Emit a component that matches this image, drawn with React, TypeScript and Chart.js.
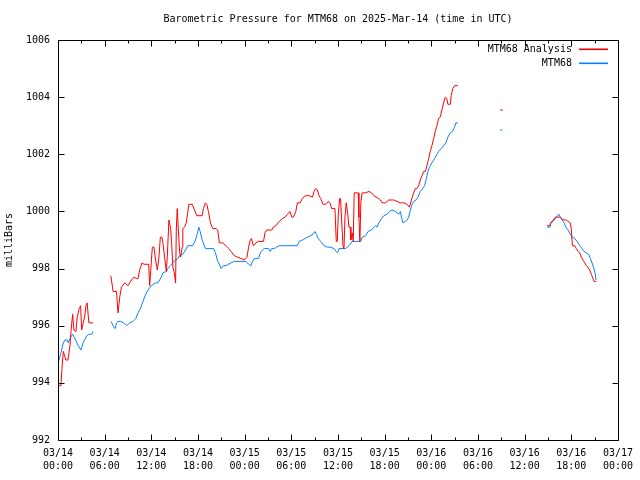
import React, { useEffect, useRef } from "react";
import { Chart, registerables } from "chart.js";

Chart.register(...registerables);

const TITLE = "Barometric Pressure for MTM68 on 2025-Mar-14 (time in UTC)";
const Y_LABEL = "milliBars";
const SERIES_NAMES = ["MTM68 Analysis", "MTM68"];
const SERIES_COLORS = ["#ff0000", "#0a80ff"];
const DAY_LABELS = ["03/14", "03/15", "03/16", "03/17"];
const X_MIN = 0;
const X_MAX = 72;
const Y_MIN = 992;
const Y_MAX = 1006;

// [hours since 03/14 00:00 UTC, millibars]
const analysisSeg1: [number, number][] = [
  [0, 993.9], [0.38, 993.9], [0.51, 994.5], [0.68, 995.1], [1.02, 994.8], [1.28, 994.8],
  [1.54, 995.3], [1.67, 995.8], [1.88, 996.4], [2.05, 995.85], [2.31, 995.8], [2.47, 996.3],
  [2.73, 996.6], [2.91, 996.7], [3.04, 995.85], [3.24, 996.1], [3.42, 996.3], [3.59, 996.7],
  [3.75, 996.8], [3.97, 996.1], [4.52, 996.1],
];
const analysisSeg2: [number, number][] = [
  [6.79, 997.75], [7.01, 997.35], [7.08, 997.2], [7.52, 997.2], [7.72, 996.45], [7.94, 997.0],
  [8.16, 997.35], [8.58, 997.5], [9.01, 997.4], [9.44, 997.6], [9.77, 997.7], [10.08, 997.65],
  [10.29, 997.65], [10.5, 997.95], [10.8, 998.2], [11.06, 998.15], [11.66, 998.15], [11.79, 997.4],
  [12.13, 998.75], [12.34, 998.75], [12.55, 998.3], [12.77, 997.95], [12.98, 998.4], [13.16, 999.1],
  [13.36, 999.1], [13.49, 998.9], [13.71, 998.4], [13.93, 997.9], [14.05, 998.4], [14.26, 999.7],
  [14.48, 999.4], [14.6, 998.95], [14.77, 998.05], [14.95, 997.85], [15.12, 997.5], [15.21, 999.35],
  [15.33, 1000.1], [15.46, 999.45], [15.63, 998.6], [15.76, 998.4], [15.97, 998.75], [16.05, 999.4],
  [16.27, 999.45], [16.49, 999.6], [16.65, 999.9], [16.82, 1000.25], [17.26, 1000.25], [17.55, 1000.05],
  [17.85, 999.85], [18.54, 999.85], [18.7, 1000.1], [18.96, 1000.3], [19.13, 1000.25], [19.34, 1000.0],
  [19.6, 999.6], [19.9, 999.4], [20.33, 999.4], [20.54, 999.35], [20.75, 998.9], [21.18, 998.9],
  [21.61, 998.8], [21.94, 998.7], [22.25, 998.6], [22.68, 998.45], [23.1, 998.4], [23.53, 998.35],
  [23.96, 998.3], [24.3, 998.4], [24.51, 998.75], [24.72, 999.0], [24.89, 999.05], [25.11, 998.8],
  [25.45, 998.9], [25.75, 998.95], [26.43, 998.95], [26.61, 999.25], [26.81, 999.35], [27.5, 999.35],
  [27.67, 999.45], [28.02, 999.5], [28.44, 999.65], [28.86, 999.75], [29.21, 999.8], [29.5, 999.9],
  [29.81, 1000.0], [30.07, 999.8], [30.27, 999.8], [30.58, 1000.0], [30.78, 1000.3], [31.13, 1000.3],
  [31.42, 1000.45], [31.77, 1000.55], [32.28, 1000.55], [32.71, 1000.5], [32.92, 1000.7], [33.14, 1000.8],
  [33.35, 1000.75], [33.56, 1000.55], [33.78, 1000.45], [34.08, 1000.25], [34.42, 1000.25], [34.76, 1000.35],
  [34.97, 1000.3], [35.19, 1000.1], [35.61, 1000.1], [35.78, 998.95], [35.91, 998.95], [36.04, 999.9],
  [36.22, 1000.45], [36.34, 1000.45], [36.47, 999.7], [36.64, 998.8], [36.77, 998.7], [36.9, 999.8],
  [37.06, 1000.3], [37.24, 999.95], [37.41, 999.45], [37.57, 999.45], [37.66, 999.0], [37.83, 999.25],
  [37.96, 998.95], [38.09, 1000.65], [38.6, 1000.65], [38.69, 999.8], [38.82, 998.95], [38.94, 1000.3],
  [39.11, 1000.65], [39.55, 1000.65], [39.97, 1000.7], [40.32, 1000.65], [40.61, 1000.55], [40.9, 1000.5],
  [41.25, 1000.45], [41.47, 1000.4], [41.67, 1000.3], [42.11, 1000.3], [42.53, 1000.4], [43.17, 1000.4],
  [43.6, 1000.35], [44.03, 1000.3], [44.45, 1000.3], [44.88, 1000.25], [45.18, 1000.15], [45.44, 1000.4],
  [45.73, 1000.65], [45.95, 1000.8], [46.16, 1000.8], [46.37, 1000.9], [46.59, 1001.1], [46.8, 1001.25],
  [47.02, 1001.4], [47.23, 1001.4], [47.44, 1001.6], [47.66, 1001.85], [47.87, 1002.1], [48.08, 1002.3],
  [48.3, 1002.55], [48.51, 1002.8], [48.72, 1003.0], [48.94, 1003.25], [49.15, 1003.3], [49.36, 1003.55],
  [49.58, 1003.8], [49.8, 1004.0], [50.0, 1003.95], [50.13, 1003.75], [50.44, 1003.75], [50.56, 1004.05],
  [50.77, 1004.3], [50.99, 1004.4], [51.41, 1004.4],
];
const analysisSeg3: [number, number][] = [[56.85, 1003.55], [57.2, 1003.55]];
const analysisSeg4: [number, number][] = [
  [62.9, 999.5], [63.25, 999.5], [63.37, 999.6], [63.67, 999.7], [63.96, 999.8], [64.53, 999.8],
  [64.73, 999.75], [65.08, 999.7], [65.37, 999.7], [65.59, 999.65], [65.88, 999.6], [66.01, 999.35],
  [66.14, 998.8], [66.45, 998.8], [66.65, 998.7], [66.87, 998.6], [67.09, 998.55], [67.29, 998.4],
  [67.51, 998.3], [67.73, 998.2], [67.93, 998.1], [68.15, 998.05], [68.37, 997.95], [68.58, 997.8],
  [68.79, 997.65], [68.92, 997.55], [69.22, 997.55],
];

const modelSeg1: [number, number][] = [
  [0, 994.7], [0.13, 994.8], [0.38, 995.05], [0.68, 995.4], [0.9, 995.5], [1.19, 995.5], [1.32, 995.4],
  [1.63, 995.6], [1.88, 995.7], [2.18, 995.55], [2.6, 995.3], [2.95, 995.15], [3.24, 995.4],
  [3.59, 995.6], [3.88, 995.7], [4.32, 995.7], [4.52, 995.8],
];
const modelSeg2: [number, number][] = [
  [6.83, 996.15], [7.08, 996.0], [7.34, 995.9], [7.52, 996.1], [7.72, 996.15], [8.07, 996.15],
  [8.46, 996.1], [8.8, 996.0], [9.22, 996.1], [9.65, 996.15], [9.99, 996.25], [10.29, 996.45],
  [10.59, 996.6], [10.93, 996.85], [11.27, 997.1], [11.57, 997.25], [12.0, 997.4], [12.55, 997.5],
  [12.85, 997.5], [13.07, 997.6], [13.28, 997.7], [13.49, 997.85], [13.93, 997.9], [14.13, 998.0],
  [14.44, 998.1], [14.77, 998.2], [15.12, 998.3], [15.41, 998.35], [15.63, 998.45], [16.05, 998.5],
  [16.4, 998.65], [16.69, 998.8], [17.33, 998.8], [17.68, 999.0], [17.9, 999.2], [18.1, 999.45],
  [18.28, 999.3], [18.54, 999.0], [18.96, 998.7], [20.02, 998.7], [20.24, 998.55], [20.54, 998.25],
  [20.75, 998.15], [20.97, 998.0], [21.27, 998.1], [21.61, 998.1], [22.25, 998.2], [22.68, 998.25],
  [24.17, 998.25], [24.51, 998.15], [24.81, 998.1], [25.02, 998.25], [25.24, 998.35], [25.79, 998.35],
  [26.01, 998.55], [26.3, 998.65], [26.52, 998.7], [27.07, 998.7], [27.29, 998.6], [27.45, 998.7],
  [27.8, 998.7], [28.09, 998.75], [28.44, 998.8], [28.79, 998.8], [30.78, 998.8], [31.0, 998.95],
  [31.42, 999.0], [32.07, 999.1], [32.5, 999.15], [32.8, 999.2], [33.05, 999.3], [33.22, 999.2],
  [33.47, 999.05], [33.78, 998.95], [34.2, 998.8], [34.63, 998.75], [35.0, 998.75], [35.49, 998.7],
  [35.78, 998.6], [35.96, 998.55], [36.13, 998.7], [36.98, 998.7], [37.41, 998.8], [37.83, 998.95],
  [38.91, 998.95], [39.11, 999.1], [39.55, 999.15], [39.88, 999.3], [40.32, 999.35], [40.61, 999.45],
  [40.83, 999.5], [41.03, 999.45], [41.25, 999.6], [41.6, 999.75], [41.89, 999.85], [42.31, 999.9],
  [42.62, 1000.0], [42.95, 1000.05], [43.39, 1000.0], [43.81, 999.9], [44.03, 1000.0], [44.16, 999.8],
  [44.36, 999.6], [44.67, 999.65], [44.88, 999.7], [45.09, 999.8], [45.31, 1000.05], [45.52, 1000.25],
  [45.73, 1000.35], [46.03, 1000.4], [46.28, 1000.5], [46.59, 1000.7], [46.89, 1000.8], [47.14, 1000.9],
  [47.36, 1001.15], [47.57, 1001.4], [47.75, 1001.55], [48.08, 1001.7], [48.42, 1001.85], [48.72, 1002.0],
  [48.94, 1002.1], [49.28, 1002.2], [49.58, 1002.3], [49.87, 1002.4], [50.13, 1002.6], [50.44, 1002.75],
  [50.73, 1002.8], [50.99, 1002.95], [51.15, 1003.1], [51.41, 1003.1],
];
const modelSeg3: [number, number][] = [[56.85, 1002.85], [57.15, 1002.85]];
const modelSeg4: [number, number][] = [
  [62.9, 999.45], [63.25, 999.45], [63.37, 999.6], [63.67, 999.65], [63.96, 999.75], [64.18, 999.85],
  [64.4, 999.9], [64.6, 999.8], [64.82, 999.7], [65.08, 999.6], [65.3, 999.45], [65.59, 999.35],
  [65.88, 999.2], [66.14, 999.1], [66.45, 999.05], [66.74, 998.95], [67.09, 998.8], [67.38, 998.7],
  [67.64, 998.6], [67.93, 998.55], [68.24, 998.5], [68.45, 998.35], [68.67, 998.2], [68.92, 998.0],
  [69.09, 997.8], [69.18, 997.6],
];

const FONT = "'DejaVu Sans Mono', monospace";
const FONT_SIZE = 10;

function joinSegments(segs: [number, number][][]) {
  const out: { x: number; y: number | null }[] = [];
  segs.forEach((seg, i) => {
    if (i > 0) out.push({ x: (segs[i - 1][segs[i - 1].length - 1][0] + seg[0][0]) / 2, y: null });
    seg.forEach(([x, y]) => out.push({ x, y }));
  });
  return out;
}

const framePlugin = {
  id: "gnuplotFrame",
  afterDraw(chart: any) {
    const { ctx, chartArea, scales } = chart;
    const { left, right, top, bottom } = chartArea;
    ctx.save();
    ctx.strokeStyle = "#000";
    ctx.lineWidth = 1;
    ctx.beginPath();
    const L = Math.round(left) + 0.5, R = Math.round(right) + 0.5;
    const T = Math.round(top) + 0.5, B = Math.round(bottom) + 0.5;
    ctx.rect(L, T, R - L, B - T);
    for (let h = X_MIN; h <= X_MAX; h += 3) {
      const px = Math.round(scales.x.getPixelForValue(h)) + 0.5;
      const len = h % 6 === 0 ? 6 : 3;
      ctx.moveTo(px, B); ctx.lineTo(px, B - len);
      ctx.moveTo(px, T); ctx.lineTo(px, T + len);
    }
    for (let v = Y_MIN; v <= Y_MAX; v += 2) {
      const py = Math.round(scales.y.getPixelForValue(v)) + 0.5;
      ctx.moveTo(L, py); ctx.lineTo(L + 6, py);
      ctx.moveTo(R, py); ctx.lineTo(R - 6, py);
    }
    ctx.stroke();
    ctx.restore();

    ctx.save();
    ctx.font = `${FONT_SIZE}px ${FONT}`;
    ctx.textAlign = "right";
    ctx.textBaseline = "middle";
    for (let i = 0; i < SERIES_NAMES.length; i++) {
      const y = Math.round(top + 9 + i * 14);
      ctx.fillStyle = "#000000";
      ctx.fillText(SERIES_NAMES[i], right - 46, y + 0.5);
    }
    ctx.restore();

    for (let i = 0; i < SERIES_NAMES.length; i++) {
      const y = Math.round(top + 9 + i * 14);
      ctx.save();
      ctx.globalAlpha = 1;
      ctx.globalCompositeOperation = "source-over";
      ctx.fillStyle = SERIES_COLORS[i];
      ctx.fillRect(Math.round(right - 39), y - 0.5, 29, 1.6);
      ctx.restore();
    }
  },
};

export default function App() {
  const ref = useRef<HTMLCanvasElement>(null);
  useEffect(() => {
    if (!ref.current) return;
    const chart = new Chart(ref.current, {
      type: "line",
      data: {
        datasets: [
          {
            label: SERIES_NAMES[0],
            data: joinSegments([analysisSeg1, analysisSeg2, analysisSeg3, analysisSeg4]) as any,
            borderColor: SERIES_COLORS[0],
            borderWidth: 1,
            pointRadius: 0,
            tension: 0,
            spanGaps: false,
          },
          {
            label: SERIES_NAMES[1],
            data: joinSegments([modelSeg1, modelSeg2, modelSeg3, modelSeg4]) as any,
            borderColor: SERIES_COLORS[1],
            borderWidth: 1,
            pointRadius: 0,
            tension: 0,
            spanGaps: false,
          },
        ],
      },
      options: {
        animation: false,
        responsive: false,
        maintainAspectRatio: false,
        layout: { padding: { left: 0, right: 20, top: 0, bottom: 0 } },
        plugins: {
          legend: { display: false },
          tooltip: { enabled: false },
          title: {
            display: true,
            fullSize: false,
            text: TITLE,
            color: "#000",
            font: { family: FONT, size: FONT_SIZE, weight: "normal", lineHeight: 1.2 },
            padding: { top: 13, bottom: 15 },
          },
        },
        scales: {
          x: {
            type: "linear",
            min: X_MIN,
            max: X_MAX,
            grid: { display: false, drawTicks: false },
            border: { display: false },
            afterFit: (s: any) => { s.height = 40; },
            ticks: {
              stepSize: 6,
              autoSkip: false,
              maxRotation: 0,
              padding: 7,
              color: "#000",
              font: { family: FONT, size: FONT_SIZE, lineHeight: 1.3 },
              callback: (v: any) => {
                const h = Number(v);
                const day = DAY_LABELS[Math.floor(h / 24)];
                const hh = String(h % 24).padStart(2, "0");
                return [day, `${hh}:00`];
              },
            },
          },
          y: {
            min: Y_MIN,
            max: Y_MAX,
            grid: { display: false, drawTicks: false },
            border: { display: false },
            afterFit: (s: any) => { s.width = 58; },
            title: {
              display: true,
              text: Y_LABEL,
              color: "#000",
              font: { family: FONT, size: FONT_SIZE },
              padding: { top: 3, bottom: 0 },
            },
            ticks: {
              stepSize: 2,
              padding: 8,
              color: "#000",
              font: { family: FONT, size: FONT_SIZE },
              callback: (v: any) => String(v),
            },
          },
        },
      },
      plugins: [framePlugin],
    });
    return () => chart.destroy();
  }, []);
  return (
    <div style={{ position: "absolute", left: 0, top: 0, width: 640, height: 480, background: "#fff" }}>
      <canvas ref={ref} width={640} height={480} />
    </div>
  );
}
